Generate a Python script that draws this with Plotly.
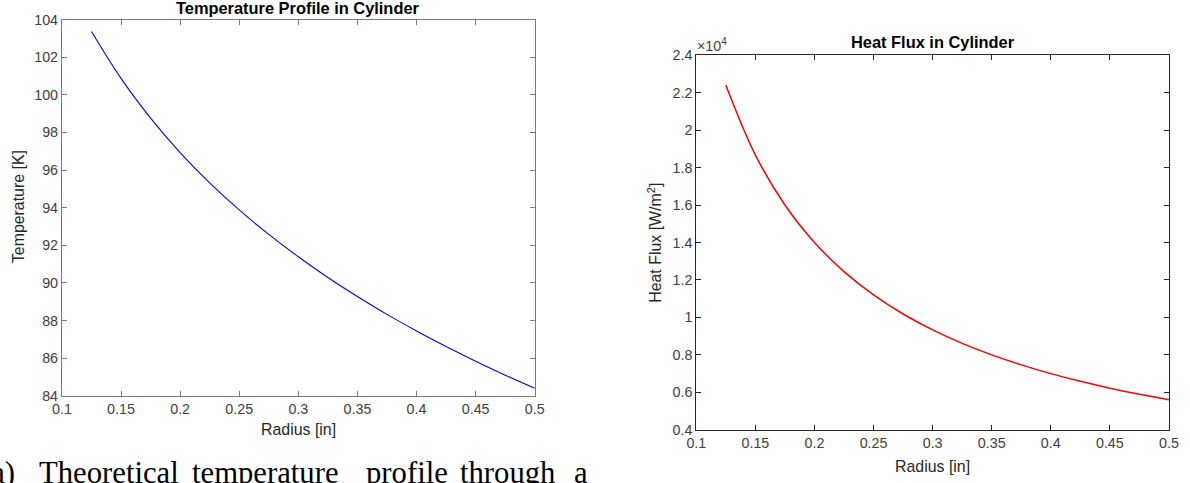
import plotly.graph_objects as go

# Radial positions through the cylinder wall [in]
radius = [0.125, 0.15, 0.175, 0.2, 0.225, 0.25, 0.275, 0.3, 0.325, 0.35,
          0.375, 0.4, 0.425, 0.45, 0.475, 0.5]

# Temperature profile [K]
temperature = [103.36, 100.87, 98.76, 96.93, 95.32, 93.88, 92.58, 91.39,
               90.29, 89.28, 88.33, 87.45, 86.62, 85.84, 85.10, 84.40]

# Radial heat flux [W/m^2]
heat_flux = [22400, 18667, 16000, 14000, 12444, 11200, 10182, 9333,
             8615, 8000, 7467, 7000, 6588, 6222, 5895, 5600]

x_ticks = [0.1, 0.15, 0.2, 0.25, 0.3, 0.35, 0.4, 0.45, 0.5]
x_ticktext = ["0.1", "0.15", "0.2", "0.25", "0.3", "0.35", "0.4", "0.45", "0.5"]
t_ticks = [84, 86, 88, 90, 92, 94, 96, 98, 100, 102, 104]
q_ticks = [4000, 6000, 8000, 10000, 12000, 14000, 16000, 18000, 20000, 22000, 24000]
q_ticktext = ["0.4", "0.6", "0.8", "1", "1.2", "1.4", "1.6", "1.8", "2", "2.2", "2.4"]

# Figure size; layout positions below are given in final image pixels and
# converted, allowing for the page's 8px body margin and the capture scale.
W, H = 1190, 483
OFF = 8
SX, SY = 1190 / 1206, 483 / 499
S = (SX + SY) / 2
FONT = "Liberation Sans, Arial, sans-serif"
TXT = "#262626"


def px(x):
    return (x / SX - OFF) / W


def py(y):
    return 1 - (y / SY - OFF) / H


def fs(size):
    return round(size / S, 1)


fig = go.Figure()
fig.add_trace(go.Scatter(x=radius, y=temperature, mode="lines",
                         line=dict(color="#0000FF", width=1.1, shape="spline"),
                         xaxis="x", yaxis="y", showlegend=False))
fig.add_trace(go.Scatter(x=radius, y=heat_flux, mode="lines",
                         line=dict(color="#FF0000", width=1.5, shape="spline"),
                         xaxis="x2", yaxis="y2", showlegend=False))


def axis_style(color):
    return dict(showline=True, linecolor=color, linewidth=1, mirror="ticks",
                ticks="inside", ticklen=5, tickcolor=color, showgrid=False,
                zeroline=False, tickfont=dict(family=FONT, size=fs(14), color="#404040"))


fig.update_layout(
    width=W, height=H, margin=dict(l=0, r=0, t=0, b=0),
    paper_bgcolor="white", plot_bgcolor="white",
    xaxis=dict(domain=[px(60), px(534.5)], range=[0.1, 0.5], tickvals=x_ticks,
               ticktext=x_ticktext, anchor="y", **axis_style("#7a7a7a")),
    yaxis=dict(domain=[py(396), py(19.3)], range=[84, 104], tickvals=t_ticks,
               anchor="x", **axis_style("#7a7a7a")),
    xaxis2=dict(domain=[px(696.7), px(1171)], range=[0.1, 0.5], tickvals=x_ticks,
                ticktext=x_ticktext, anchor="y2", **axis_style("#262626")),
    yaxis2=dict(domain=[py(430), py(55)], range=[4000, 24000], tickvals=q_ticks,
                ticktext=q_ticktext, anchor="x2", **axis_style("#262626")),
)

ann = []


def label(text, x, y, size=15.5, bold=False, angle=0, xanchor="center",
          yanchor="middle", family=FONT, color=TXT):
    if bold:
        text = "<b>" + text + "</b>"
    ann.append(dict(text=text, x=px(x), y=py(y), xref="paper", yref="paper",
                    showarrow=False, textangle=angle, xanchor=xanchor,
                    yanchor=yanchor, borderpad=0,
                    font=dict(family=family, size=fs(size), color=color)))


# Titles
label("Temperature Profile in Cylinder", 297, 8, size=16, bold=True, color="#000000")
label("Heat Flux in Cylinder", 934, 42, size=16, bold=True, color="#000000")
# Axis titles
label("Radius [in]", 297, 430)
label("Radius [in]", 934, 467)
label("Temperature [K]", 16, 207, angle=-90)
label("Heat Flux [W/m<sup>2</sup>]", 655, 243, angle=-90)
# Exponent marker for the heat-flux axis
label("×10<sup>4</sup>", 696, 55, size=14, xanchor="left", yanchor="bottom", color="#404040")

# Sub-figure caption
SERIF = "Liberation Serif, Times New Roman, serif"
words = [("(a)", 14, "right"), ("Theoretical", 36, "left"), ("temperature", 190, "left"),
         ("profile", 364, "left"), ("through", 459, "left"), ("a", 573, "left")]
for w, x, anchor in words:
    label(w, x, 455, size=30, xanchor=anchor, yanchor="top", family=SERIF, color="#000000")

fig.update_layout(annotations=ann)
fig.write_html("out.html")
